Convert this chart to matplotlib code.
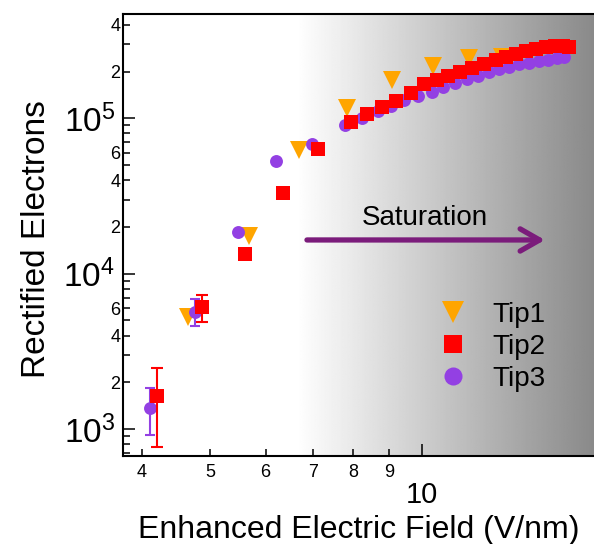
import numpy as np
import matplotlib
matplotlib.use('Agg')
import matplotlib.pyplot as plt
from matplotlib.lines import Line2D
from matplotlib.ticker import FixedLocator, FixedFormatter, FuncFormatter

plt.rcParams['font.family'] = ['Liberation Sans', 'DejaVu Sans']
plt.rcParams['mathtext.fontset'] = 'custom'
plt.rcParams['mathtext.rm'] = 'Liberation Sans'

# Tip1: orange triangles
tip1_field = [4.66, 5.69, 6.70, 7.83, 9.07, 10.37, 11.67, 13.0]
tip1_elec = [5290, 17400, 62800, 116500, 175600, 217700, 243200, 249100]

# Tip2: red squares
tip2_field = [4.20, 4.88, 5.61, 6.36, 7.13, 7.93, 8.36, 8.78, 9.19, 9.66,
              10.08, 10.51, 10.90, 11.34, 11.79, 12.26, 12.75, 13.18, 13.61, 14.07,
              14.53, 15.02, 15.47, 15.88, 16.20]
tip2_elec = [1633, 6078, 13390, 33200, 63440, 94670, 106600, 118200, 129200, 146100,
             166300, 176400, 187200, 198600, 210700, 223600, 235500, 248000, 259300, 271100,
             279200, 287600, 291900, 291900, 287600]
tip2_err_field = [4.20, 4.88]
tip2_err_val = [1633, 6078]
tip2_err_lo = [770, 4911]
tip2_err_hi = [2462, 7262]

# Tip3: purple circles
tip3_field = [4.11, 4.76, 5.48, 6.21, 6.98, 7.79, 8.23, 8.67, 9.04, 9.44,
              9.88, 10.34, 10.72, 11.15, 11.60, 12.02, 12.46, 12.88, 13.31, 13.75,
              14.21, 14.68, 15.12, 15.57, 15.93]
tip3_elec = [1367, 5694, 18640, 53360, 68330, 90550, 100400, 111400, 120000, 130200,
             139200, 147700, 159000, 168700, 179000, 187200, 198600, 206100, 213900, 221900,
             226900, 233700, 238900, 244300, 248000]
tip3_err_field = [4.11, 4.76]
tip3_err_val = [1367, 5694]
tip3_err_lo = [912, 4624]
tip3_err_hi = [1846, 6902]

orange = '#ffa500'
red = '#ff0000'
purple = '#9340e3'
arrow_col = '#7b1c7b'

fig = plt.figure(figsize=(5.94, 5.44), dpi=100)
ax = fig.add_axes([0.2076, 0.1623, 0.7924, 0.812])
ax.set_xscale('log')
ax.set_yscale('log')
ax.set_xlim(3.766, 17.58)
ax.set_ylim(674, 4.69e5)

# grey shading on the right part of the plot
frac = np.linspace(0, 1, 512)
start = 0.369
shade = np.where(frac < start, 1.0, 1.0 - 0.46 * (frac - start) / (1 - start))
ax.imshow(np.tile(shade, (2, 1)), cmap='gray', vmin=0, vmax=1, extent=[0, 1, 0, 1],
          transform=ax.transAxes, aspect='auto', zorder=0, interpolation='bilinear')

ax.plot(tip1_field, tip1_elec, 'v', color=orange, ms=13, mew=0, zorder=2)

lo = np.array(tip3_err_val) - np.array(tip3_err_lo)
hi = np.array(tip3_err_hi) - np.array(tip3_err_val)
ax.errorbar(tip3_err_field, tip3_err_val, yerr=[lo, hi], fmt='none', ecolor=purple,
            elinewidth=1.5, capsize=3.3, capthick=1.5, zorder=3)
ax.plot(tip3_field, tip3_elec, 'o', color=purple, ms=9.3, mew=0, zorder=3)

lo = np.array(tip2_err_val) - np.array(tip2_err_lo)
hi = np.array(tip2_err_hi) - np.array(tip2_err_val)
ax.errorbar(tip2_err_field, tip2_err_val, yerr=[lo, hi], fmt='none', ecolor=red,
            elinewidth=1.5, capsize=4, capthick=1.5, zorder=4)
ax.plot(tip2_field, tip2_elec, 's', color=red, ms=9.4, mew=0, zorder=4)

# saturation arrow
ax.annotate('', xy=(14.97, 16480), xytext=(6.87, 16480),
            arrowprops=dict(arrowstyle='->,head_length=0.7,head_width=0.4', lw=3.8,
                            color=arrow_col, shrinkA=0, shrinkB=0, mutation_scale=20),
            zorder=5)
ax.text(10.1, 22830, 'Saturation', fontsize=20, ha='center', va='center', zorder=5)

# ticks
ax.xaxis.set_major_locator(FixedLocator([10]))
ax.xaxis.set_major_formatter(FixedFormatter(['10']))
ax.xaxis.set_minor_locator(FixedLocator([4, 5, 6, 7, 8, 9]))
ax.xaxis.set_minor_formatter(FixedFormatter(['4', '5', '6', '7', '8', '9']))

ax.yaxis.set_major_locator(FixedLocator([1e3, 1e4, 1e5]))
ax.yaxis.set_major_formatter(FuncFormatter(
    lambda v, p: r'$\mathregular{10^{%d}}$' % round(np.log10(v))))
yminor = [m * 10 ** e for e in (2, 3, 4, 5) for m in range(2, 10)]
ax.yaxis.set_minor_locator(FixedLocator(yminor))

def minor_label(v, p):
    m = int(round(v / 10 ** np.floor(np.log10(v) + 1e-9)))
    return str(m) if m in (2, 4, 6) else ''

ax.yaxis.set_minor_formatter(FuncFormatter(minor_label))

ax.tick_params(which='both', direction='in', width=1.1, top=False, right=False)
ax.tick_params(which='major', length=8.6)
ax.tick_params(which='minor', length=5)
ax.tick_params(axis='x', which='minor', labelsize=13, pad=6)
ax.tick_params(axis='x', which='major', labelsize=21, pad=18)
ax.tick_params(axis='y', which='minor', labelsize=13, pad=2)
ax.tick_params(axis='y', which='major', labelsize=24, pad=6)

for side in ('left', 'top', 'bottom'):
    ax.spines[side].set_linewidth(1.5)
ax.spines['right'].set_visible(False)

ax.set_xlabel('Enhanced Electric Field (V/nm)', fontsize=23)
ax.set_ylabel('Rectified Electrons', fontsize=24)
ax.xaxis.set_label_coords(0.5, -0.135)
ax.yaxis.set_label_coords(-0.152, 0.49)

handles = [
    Line2D([], [], ls='none', marker='v', color=orange, ms=15.5, mew=0),
    Line2D([], [], ls='none', marker='s', color=red, ms=13, mew=0),
    Line2D([], [], ls='none', marker='o', color=purple, ms=13, mew=0),
]
ax.legend(handles, ['Tip1', 'Tip2', 'Tip3'],
          loc='center left', bbox_to_anchor=(0.6716, 0.246), frameon=False,
          fontsize=20, handlelength=1.0, handletextpad=0.92,
          labelspacing=0.22, borderpad=0, borderaxespad=0)

fig.savefig('out.png', dpi=100)
